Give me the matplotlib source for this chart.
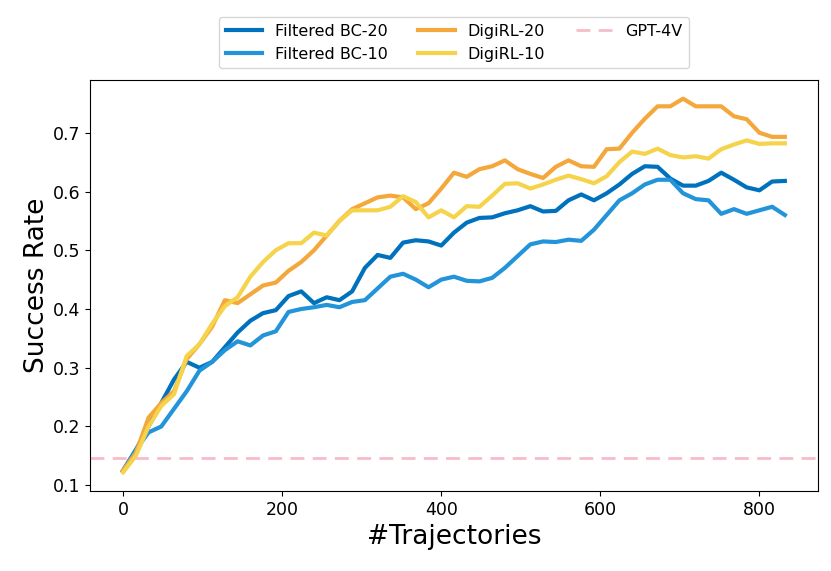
import numpy as np
import matplotlib.pyplot as plt

# number of trajectories (x axis)
trajectories = np.arange(0, 833, 16)

bc_20 = [0.125, 0.16, 0.20, 0.24, 0.28, 0.31, 0.30, 0.31, 0.335, 0.36,
         0.38, 0.393, 0.398, 0.422, 0.43, 0.41, 0.42, 0.415, 0.43, 0.47,
         0.492, 0.487, 0.513, 0.517, 0.515, 0.508, 0.53, 0.547, 0.555, 0.556,
         0.563, 0.568, 0.575, 0.566, 0.567, 0.585, 0.595, 0.585, 0.597, 0.612,
         0.63, 0.643, 0.642, 0.622, 0.61, 0.61, 0.618, 0.632, 0.62, 0.607,
         0.602, 0.617, 0.618]
bc_10 = [0.125, 0.16, 0.19, 0.20, 0.23, 0.26, 0.295, 0.31, 0.33, 0.345,
         0.338, 0.355, 0.362, 0.395, 0.40, 0.403, 0.407, 0.403, 0.412, 0.415,
         0.435, 0.455, 0.46, 0.45, 0.437, 0.45, 0.455, 0.448, 0.447, 0.453,
         0.47, 0.49, 0.51, 0.515, 0.514, 0.518, 0.516, 0.535, 0.56, 0.585,
         0.597, 0.612, 0.62, 0.62, 0.597, 0.587, 0.585, 0.562, 0.57, 0.562,
         0.568, 0.574, 0.56]
digirl_20 = [0.125, 0.155, 0.215, 0.24, 0.26, 0.315, 0.34, 0.37, 0.415, 0.41,
             0.425, 0.44, 0.445, 0.465, 0.48, 0.50, 0.525, 0.55, 0.57, 0.58,
             0.59, 0.593, 0.59, 0.57, 0.58, 0.605, 0.632, 0.625, 0.638, 0.643,
             0.653, 0.638, 0.63, 0.623, 0.642, 0.653, 0.643, 0.642, 0.672, 0.673,
             0.70, 0.724, 0.745, 0.745, 0.758, 0.745, 0.745, 0.745, 0.728, 0.723,
             0.70, 0.693, 0.693]
digirl_10 = [0.122, 0.15, 0.20, 0.235, 0.255, 0.32, 0.34, 0.375, 0.405, 0.42,
             0.455, 0.48, 0.50, 0.512, 0.512, 0.53, 0.525, 0.55, 0.568, 0.568,
             0.568, 0.574, 0.592, 0.582, 0.556, 0.568, 0.556, 0.575, 0.574, 0.593,
             0.613, 0.614, 0.605, 0.612, 0.62, 0.627, 0.621, 0.614, 0.626, 0.65,
             0.668, 0.664, 0.673, 0.662, 0.658, 0.66, 0.656, 0.672, 0.68, 0.687,
             0.681, 0.682, 0.682]
gpt4v = 0.147

fig = plt.figure(figsize=(8.31, 5.71), dpi=100)
ax = fig.add_axes([0.1083, 0.1401, 0.876, 0.7198])

lw = 3.0
ax.plot(trajectories, bc_20, color='#0072BD', lw=lw, label='Filtered BC-20')
ax.plot(trajectories, bc_10, color='#2394DA', lw=lw, label='Filtered BC-10')
ax.plot(trajectories, digirl_20, color='#F4A73B', lw=lw, label='DigiRL-20')
ax.plot(trajectories, digirl_10, color='#F5D34A', lw=lw, label='DigiRL-10')
ax.axhline(gpt4v, color='#F7BCC8', lw=2, ls=(0, (5, 3)), label='GPT-4V')

ax.set_xticks([0, 200, 400, 600, 800])
ax.set_yticks([0.1, 0.2, 0.3, 0.4, 0.5, 0.6, 0.7])
ax.tick_params(labelsize=12.5)
ax.set_xlabel('#Trajectories', fontsize=19)
ax.set_ylabel('Success Rate', fontsize=19, labelpad=2)

ax.legend(loc='lower center', bbox_to_anchor=(0.5, 1.01), ncol=3,
          fontsize=11.5, handlelength=2.3, columnspacing=1.9)

fig.savefig('out.png', dpi=100)
